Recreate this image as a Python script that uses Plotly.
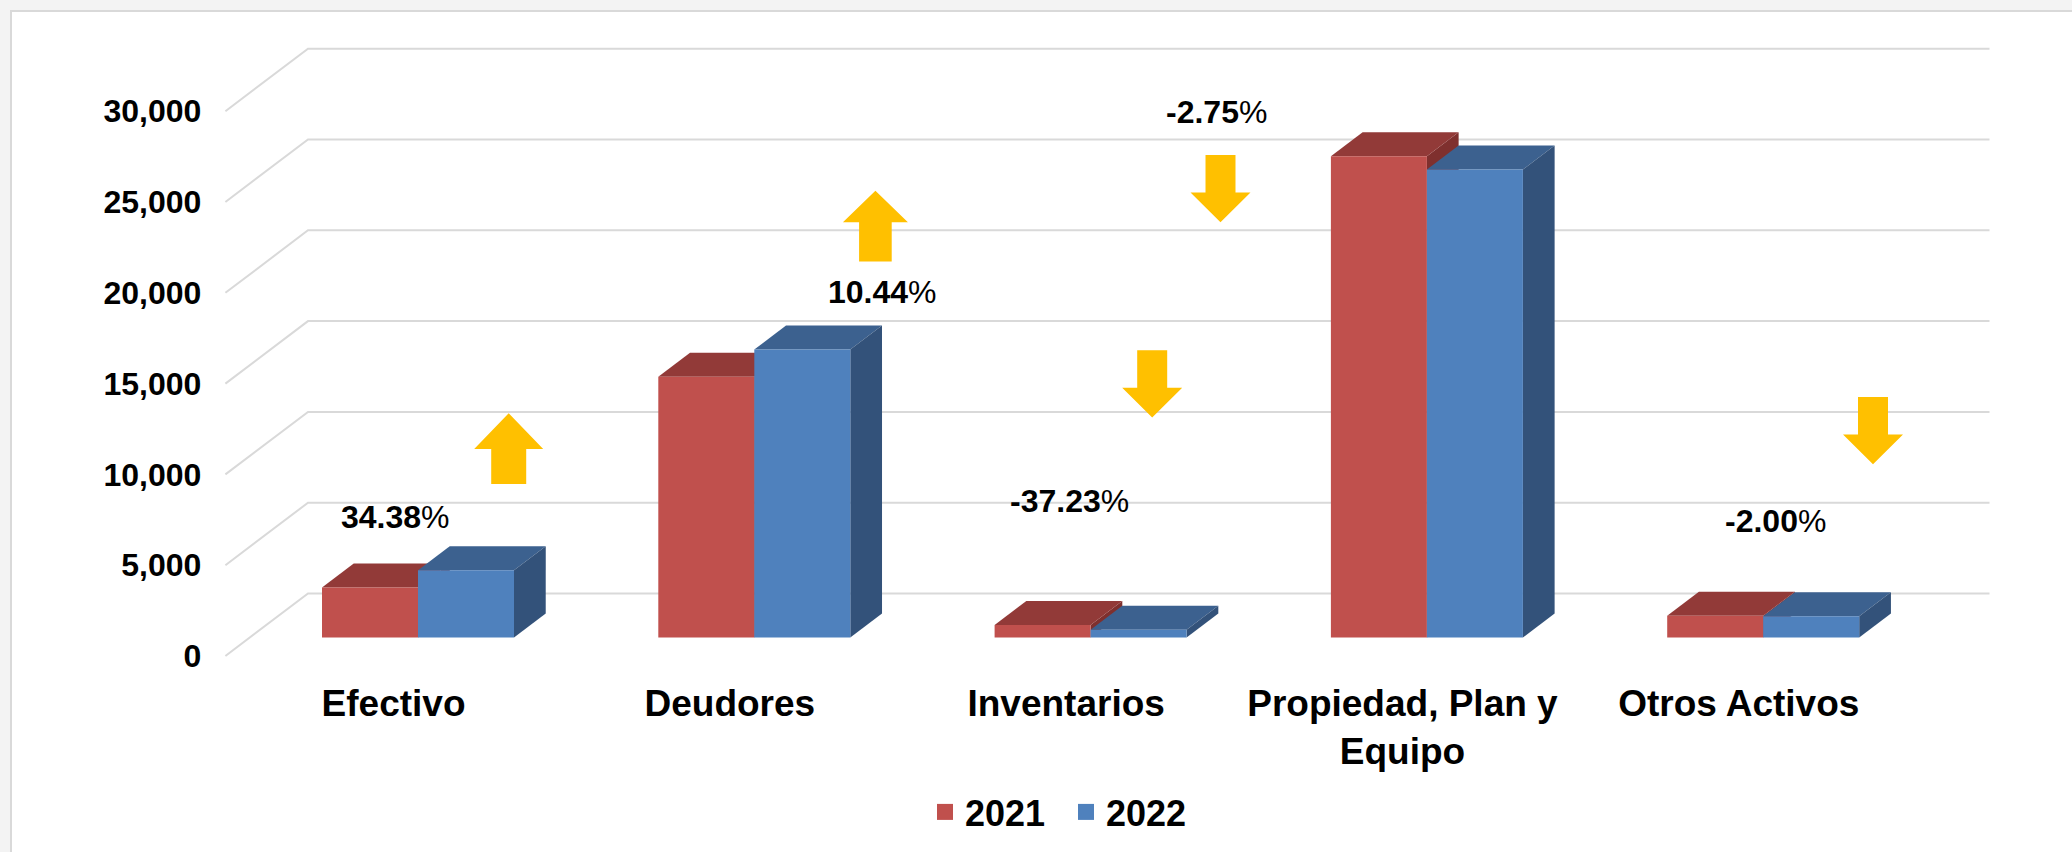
import plotly.graph_objects as go

# ---- data -------------------------------------------------------------
categories = ["Efectivo", "Deudores", "Inventarios", "Propiedad, Plan y<br>Equipo", "Otros Activos"]
years = ["2021", "2022"]
values_2021 = [2760, 14360, 685, 26500, 1200]
values_2022 = [3709, 15859, 430, 25771, 1176]
change_pct = ["34.38", "10.44", "-37.23", "-2.75", "-2.00"]
y_tick_values = [0, 5000, 10000, 15000, 20000, 25000, 30000]

# ---- styling ----------------------------------------------------------
FONT = "Liberation Sans, Arial, sans-serif"
FRONT_COLORS = ["#C0504D", "#4F81BD"]
TOP_COLORS = ["#923A38", "#3C618F"]
SIDE_COLORS = ["#7F302E", "#33527A"]
GRID_COLOR = "#D9D9D9"
ARROW_COLOR = "#FFC000"

W, H = 2072, 852

# oblique projection of the 3-D column chart (pixel units)
FRONT_LEFT = 225.4          # x of the front wall's left edge
FRONT_ZERO = 656.0          # y of value 0 on the front wall
CAT_PX = 336.3              # width of one category slot
PX_PER_VAL = 90.8 / 5000    # vertical pixels per unit of value
DEPTH_X, DEPTH_Y = 82.6, 62.5   # shift from front wall to back wall
BAR_FRONT, BAR_BACK = 0.296, 0.68  # depth of the columns (0 = front, 1 = back)
BAR_W = 96 / CAT_PX          # width of one column in category units
N = len(categories)

# main axes: the plane holding the columns' front faces
bar_left = FRONT_LEFT + BAR_FRONT * DEPTH_X
bar_zero = FRONT_ZERO - BAR_FRONT * DEPTH_Y
x_range = [-bar_left / CAT_PX - 0.5, (W - bar_left) / CAT_PX - 0.5]
y_range = [-(H - bar_zero) / PX_PER_VAL, bar_zero / PX_PER_VAL]
# overlay axes: the front wall, which carries the tick labels
x2_range = [-FRONT_LEFT / CAT_PX - 0.5, (W - FRONT_LEFT) / CAT_PX - 0.5]
y2_range = [-(H - FRONT_ZERO) / PX_PER_VAL, FRONT_ZERO / PX_PER_VAL]


def proj(c, v, d):
    """3-D point (category pos, value, depth) -> main-axis data coords."""
    return (c + (d - BAR_FRONT) * DEPTH_X / CAT_PX,
            v + (d - BAR_FRONT) * DEPTH_Y / PX_PER_VAL)


def path(points):
    return "M " + " L ".join(f"{x:.5f},{y:.3f}" for x, y in points) + " Z"


def line_path(points):
    return "M " + " L ".join(f"{x:.5f},{y:.3f}" for x, y in points)


shapes = []

# light frame around the chart area
shapes.append(dict(type="rect", xref="paper", yref="paper", x0=0, x1=1, y0=1 - 10 / H, y1=1,
                   fillcolor="#F3F3F3", line_width=0, layer="below"))
shapes.append(dict(type="rect", xref="paper", yref="paper", x0=0, x1=10 / W, y0=0, y1=1,
                   fillcolor="#F3F3F3", line_width=0, layer="below"))
shapes.append(dict(type="rect", xref="paper", yref="paper", x0=11 / W, x1=(W + 20) / W,
                   y0=-20 / H, y1=1 - 11 / H, fillcolor="white",
                   line=dict(color="#D9D9D9", width=2), layer="below"))

# gridlines: side wall diagonal + back wall horizontal
for t in y_tick_values:
    pts = [proj(-0.5, t, 0), proj(-0.5, t, 1), proj(N - 0.5, t, 1)]
    shapes.append(dict(type="path", xref="x", yref="y", path=line_path(pts),
                       line=dict(color=GRID_COLOR, width=2), layer="below"))

# white boxes behind the change labels
label_boxes = [(319, 612, 499, 536), (988, 1290, 482, 520), (1702, 2000, 501, 540)]
for x0, x1, y0, y1 in label_boxes:
    shapes.append(dict(type="rect", xref="paper", yref="paper", x0=x0 / W, x1=x1 / W,
                       y0=1 - y1 / H, y1=1 - y0 / H, fillcolor="white", line_width=0,
                       layer="below"))

# 3-D faces of the columns
series = [values_2021, values_2022]
sides, tops = [[], []], [[], []]
for s, vals in enumerate(series):
    for i, v in enumerate(vals):
        x0 = i - BAR_W + s * BAR_W
        x1 = x0 + BAR_W
        top = [proj(x0, v, BAR_FRONT), proj(x1, v, BAR_FRONT), proj(x1, v, BAR_BACK), proj(x0, v, BAR_BACK)]
        side = [proj(x1, 0, BAR_FRONT), proj(x1, v, BAR_FRONT), proj(x1, v, BAR_BACK), proj(x1, 0, BAR_BACK)]
        tops[s].append(dict(type="path", xref="x", yref="y", path=path(top),
                            fillcolor=TOP_COLORS[s], line_width=0, layer="below"))
        sides[s].append(dict(type="path", xref="x", yref="y", path=path(side),
                             fillcolor=SIDE_COLORS[s], line_width=0, layer="below"))
shapes += sides[0] + tops[0] + tops[1] + sides[1]

# up / down block arrows beside each category
# (centre x, top y, bottom y, direction, head width, shaft width, head height)
arrows = [
    (508.7, 413.3, 484.3, "up", 69, 35, 35.7),
    (875.4, 190.6, 261.6, "up", 65, 32.6, 31.7),
    (1152.2, 350.4, 417.4, "down", 60, 30, 30),
    (1220.5, 155.4, 222.3, "down", 60, 30, 29.5),
    (1873.0, 397.3, 464.3, "down", 60, 30, 30),
]
for cx, top, bot, direction, hw, sw, hh in arrows:
    if direction == "up":
        pts = [(cx, top), (cx + hw / 2, top + hh), (cx + sw / 2, top + hh), (cx + sw / 2, bot),
               (cx - sw / 2, bot), (cx - sw / 2, top + hh), (cx - hw / 2, top + hh)]
    else:
        pts = [(cx, bot), (cx + hw / 2, bot - hh), (cx + sw / 2, bot - hh), (cx + sw / 2, top),
               (cx - sw / 2, top), (cx - sw / 2, bot - hh), (cx - hw / 2, bot - hh)]
    shapes.append(dict(type="path", xref="paper", yref="paper",
                       path=path([(px / W, 1 - py / H) for px, py in pts]),
                       fillcolor=ARROW_COLOR, line_width=0, layer="above"))

# ---- traces -----------------------------------------------------------
fig = go.Figure()
for s, vals in enumerate(series):
    fig.add_trace(go.Bar(x=categories, y=vals, name=years[s], marker_color=FRONT_COLORS[s],
                         marker_line_width=0, showlegend=False, hoverinfo="skip"))
# legend entries
for s in range(2):
    fig.add_trace(go.Scatter(x=[None], y=[None], mode="markers", name=years[s],
                             marker=dict(symbol="square", size=19, color=FRONT_COLORS[s])))
# carrier for the front-wall axes
fig.add_trace(go.Scatter(x=categories, y=[None] * N, xaxis="x2", yaxis="y2", mode="markers",
                         showlegend=False, hoverinfo="skip"))

# change labels
label_pos = [(339.3, 517), (826, 292), (1008, 501), (1164, 112), (1723, 521)]
annotations = []
for (px, py), pct in zip(label_pos, change_pct):
    annotations.append(dict(text=f"<b>{pct}</b>%", x=px / W, y=1 - py / H, xref="paper", yref="paper",
                            xanchor="left", yanchor="middle", showarrow=False,
                            font=dict(family=FONT, size=32, color="black")))

fig.update_layout(
    width=W, height=H,
    margin=dict(l=0, r=0, t=0, b=0),
    paper_bgcolor="white", plot_bgcolor="rgba(0,0,0,0)",
    barmode="group", bargap=1 - 2 * BAR_W, bargroupgap=0,
    font=dict(family=FONT, color="black"),
    xaxis=dict(domain=[0, 1], range=x_range, visible=False, fixedrange=True),
    yaxis=dict(domain=[0, 1], range=y_range, visible=False, fixedrange=True),
    xaxis2=dict(overlaying="x", anchor="free", position=1 - FRONT_ZERO / H, side="bottom",
                range=x2_range, categoryorder="array", categoryarray=categories,
                showgrid=False, zeroline=False, showline=False, ticks="", tickangle=0,
                ticklabelstandoff=22,
                tickfont=dict(family=FONT, size=37, color="black", weight="bold"), fixedrange=True),
    yaxis2=dict(overlaying="y", anchor="free", position=FRONT_LEFT / W, side="left",
                range=y2_range, tickvals=y_tick_values, tickformat=",d",
                showgrid=False, zeroline=False, showline=False, ticks="",
                ticklabelstandoff=24,
                tickfont=dict(family=FONT, size=32, color="black", weight="bold"), fixedrange=True),
    legend=dict(orientation="h", x=1066 / W, xanchor="center", y=1 - 812 / H, yanchor="middle",
                font=dict(family=FONT, size=36, color="black", weight="bold"),
                entrywidth=96, entrywidthmode="pixels",
                bgcolor="rgba(0,0,0,0)", itemclick=False, itemdoubleclick=False),
    shapes=shapes,
    annotations=annotations,
    hovermode=False,
)

fig.write_html("out.html", config={"displayModeBar": False})
